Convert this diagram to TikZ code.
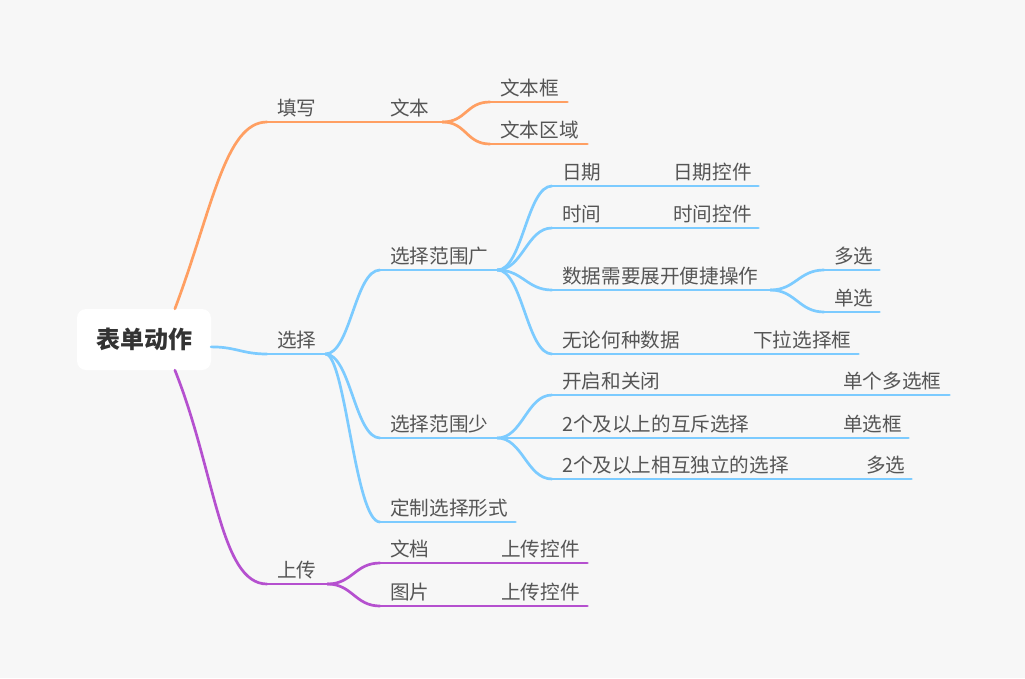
\documentclass[tikz,border=0pt]{standalone}
\usepackage{fontspec}
\setmainfont{Noto Sans CJK SC}
\usetikzlibrary{calc}
\definecolor{bg}{HTML}{F7F7F7}
\definecolor{org}{HTML}{FF9F62}
\definecolor{blu}{HTML}{7CCBFF}
\definecolor{pur}{HTML}{B550CF}
\definecolor{txt}{HTML}{555555}
\definecolor{roottxt}{HTML}{333333}
\tikzset{
  lbl/.style={inner xsep=0pt, inner ysep=2.5pt, text height=15pt, text depth=3.5pt,
    anchor=south west, font=\fontsize{19.6}{22}\selectfont, text=txt},
  br/.style={line width=2.7pt, line cap=round},
  rootbox/.style={fill=white, rounded corners=9pt, minimum width=134pt, minimum height=61pt,
    inner sep=0pt, font=\fontsize{24}{28}\selectfont\bfseries, text=roottxt},
}
\newcommand\MNode[6]{%
  \node[lbl] (#1) at (#2,#4) {\hbox to \dimexpr #3pt-#2pt\relax{\hskip10pt #5\hss}};
  \draw[br,#6] (#1.south west) -- (#1.south east);}
\begin{document}
\begin{tikzpicture}[x=1pt,y=-1pt]
\fill[bg] (0,0) rectangle (1025,678);
\useasboundingbox (0,0) rectangle (1025,678);

\node[rootbox] (root) at (144,339.5) {表单动作};

% 填写
\MNode{tianxie}{267}{370}{122}{填写}{org}
\MNode{wenben}{380}{442}{122}{文本}{org}
\MNode{wbk}{490}{567}{102}{文本框}{org}
\MNode{wbqy}{490}{587}{144}{文本区域}{org}

% 选择
\MNode{xuanze}{267}{325}{354}{选择}{blu}
\MNode{guang}{380}{497}{270}{选择范围广}{blu}
\MNode{riqi}{552}{640}{186}{日期}{blu}
\MNode{riqikj}{663}{758}{186}{日期控件}{blu}
\MNode{shijian}{552}{640}{228}{时间}{blu}
\MNode{shijiankj}{663}{758}{228}{时间控件}{blu}
\MNode{zhankai}{552}{770}{290}{数据需要展开便捷操作}{blu}
\MNode{duoxuan}{824}{879}{270}{多选}{blu}
\MNode{danxuan}{824}{879}{312}{单选}{blu}
\MNode{wulun}{552}{700}{354}{无论何种数据}{blu}
\MNode{xiala}{743}{858}{354}{下拉选择框}{blu}
\MNode{shao}{380}{497}{438}{选择范围少}{blu}
\MNode{kaiqi}{552}{700}{395}{开启和关闭}{blu}
\MNode{dgdxk}{833}{949}{395}{单个多选框}{blu}
\MNode{huchi}{552}{800}{438}{2个及以上的互斥选择}{blu}
\MNode{dxk}{833}{908}{438}{单选框}{blu}
\MNode{duli}{552}{820}{479}{2个及以上相互独立的选择}{blu}
\MNode{duoxuan2}{856}{911}{479}{多选}{blu}
\MNode{dingzhi}{380}{515}{522}{定制选择形式}{blu}

% 上传
\MNode{shangchuan}{267}{327}{584}{上传}{pur}
\MNode{wendang}{380}{460}{563}{文档}{pur}
\MNode{wdkj}{491}{587}{563}{上传控件}{pur}
\MNode{tupian}{380}{460}{606}{图片}{pur}
\MNode{tpkj}{491}{587}{606}{上传控件}{pur}

% connectors: 填写
\draw[br,org] ($(root.north west)!0.73!(root.north east)$) .. controls (212,210) and (225,122) .. (tianxie.south west);
\draw[br,org] (tianxie.south east) -- (wenben.south west);
\draw[br,org] (wenben.south east) .. controls +(24,0) and +(-24,0) .. (wbk.south west);
\draw[br,org] (wenben.south east) .. controls +(24,0) and +(-24,0) .. (wbqy.south west);

% connectors: 选择
\draw[br,blu] ($(root.south east)!0.38!(root.north east)$) .. controls +(25,0) and +(-25,0) .. (xuanze.south west);
\draw[br,blu] (xuanze.south east) .. controls +(25,0) and +(-25,0) .. (guang.south west);
\draw[br,blu] (xuanze.south east) .. controls +(25,0) and +(-25,0) .. (shao.south west);
\draw[br,blu] (xuanze.south east) .. controls +(20,0) and +(-25,0) .. (dingzhi.south west);
\draw[br,blu] (guang.south east) .. controls +(25,0) and +(-25,0) .. (riqi.south west);
\draw[br,blu] (guang.south east) .. controls +(25,0) and +(-25,0) .. (shijian.south west);
\draw[br,blu] (guang.south east) .. controls +(25,0) and +(-25,0) .. (zhankai.south west);
\draw[br,blu] (guang.south east) .. controls +(25,0) and +(-25,0) .. (wulun.south west);
\draw[br,blu] (riqi.south east) -- (riqikj.south west);
\draw[br,blu] (shijian.south east) -- (shijiankj.south west);
\draw[br,blu] (zhankai.south east) .. controls +(25,0) and +(-25,0) .. (duoxuan.south west);
\draw[br,blu] (zhankai.south east) .. controls +(25,0) and +(-25,0) .. (danxuan.south west);
\draw[br,blu] (wulun.south east) -- (xiala.south west);
\draw[br,blu] (shao.south east) .. controls +(25,0) and +(-25,0) .. (kaiqi.south west);
\draw[br,blu] (shao.south east) -- (huchi.south west);
\draw[br,blu] (shao.south east) .. controls +(25,0) and +(-25,0) .. (duli.south west);
\draw[br,blu] (kaiqi.south east) -- (dgdxk.south west);
\draw[br,blu] (huchi.south east) -- (dxk.south west);
\draw[br,blu] (duli.south east) -- (duoxuan2.south west);

% connectors: 上传
\draw[br,pur] ($(root.south west)!0.73!(root.south east)$) .. controls (215,470) and (220,584) .. (shangchuan.south west);
\draw[br,pur] (shangchuan.south east) .. controls +(25,0) and +(-25,0) .. (wendang.south west);
\draw[br,pur] (shangchuan.south east) .. controls +(25,0) and +(-25,0) .. (tupian.south west);
\draw[br,pur] (wendang.south east) -- (wdkj.south west);
\draw[br,pur] (tupian.south east) -- (tpkj.south west);
\end{tikzpicture}
\end{document}
